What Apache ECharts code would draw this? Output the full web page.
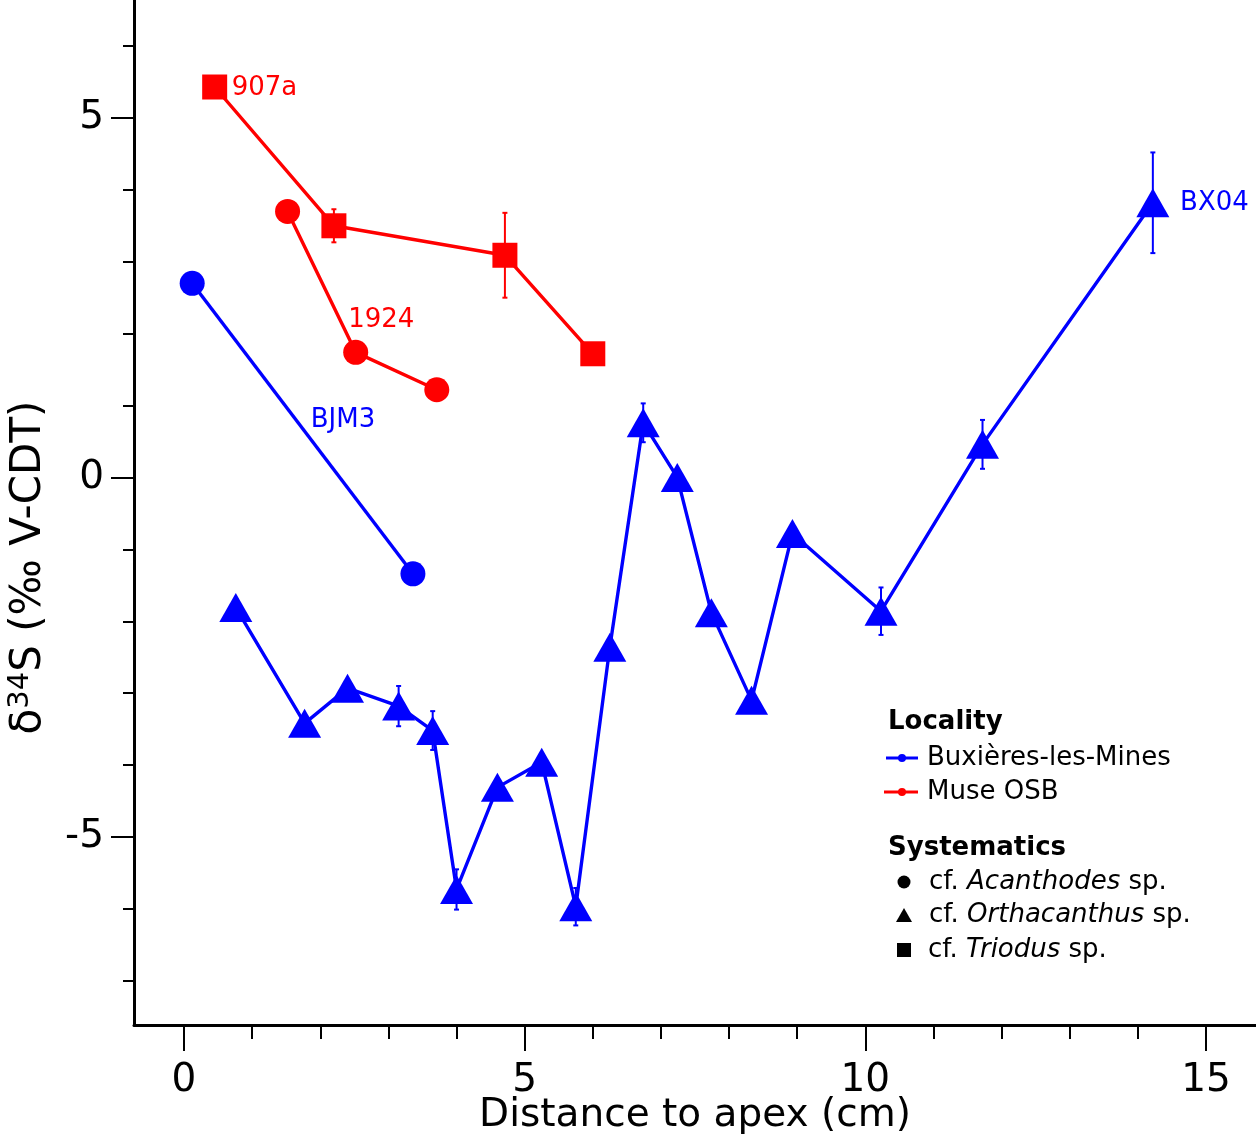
<!DOCTYPE html>
<html><head><meta charset="utf-8">
<script src="https://cdn.jsdelivr.net/npm/echarts@6/dist/echarts.min.js"></script>
<style>html,body{margin:0;padding:0;background:#fff}#c{width:1256px;height:1136px}</style>
</head><body><div id="c"></div>
<script>
// ---- data ----
const xMajorTicks = [0, 5, 10, 15];
const xMinorTicks = [1, 2, 3, 4, 6, 7, 8, 9, 11, 12, 13, 14];
const yMajorTicks = [-5, 0, 5];
const yMinorTicks = [-7, -6, -4, -3, -2, -1, 1, 2, 3, 4, 6];

const bx04X = [0.76, 1.77, 2.40, 3.15, 3.65, 4.00, 4.60, 5.25, 5.75, 6.25, 6.74, 7.24, 7.74, 8.33, 8.93, 10.23, 11.72, 14.22];
const bx04Y = [-1.81, -3.42, -2.93, -3.18, -3.52, -5.73, -4.31, -3.96, -5.97, -2.36, 0.76, 0.00, -1.88, -3.10, -0.78, -1.86, 0.46, 3.82];
const bx04Err = [0.12, 0.05, 0.10, 0.28, 0.27, 0.28, 0.05, 0.05, 0.26, 0.05, 0.27, 0.05, 0.05, 0.05, 0.05, 0.33, 0.34, 0.70];

const bjm3X = [0.12, 3.36];
const bjm3Y = [2.70, -1.34];
const bjm3Err = [0.05, 0.05];

const osb1924X = [1.52, 2.52, 3.71];
const osb1924Y = [3.70, 1.74, 1.22];
const osb1924Err = [0.05, 0.05, 0.05];

const osb907aX = [0.45, 2.20, 4.71, 6.00];
const osb907aY = [5.43, 3.50, 3.09, 1.72];
const osb907aErr = [0.05, 0.23, 0.59, 0.05];

const annText = ['907a', '1924', 'BJM3', 'BX04'];
const annX = [0.70, 2.41, 1.86, 14.62];
const annY = [5.41, 2.18, 0.80, 3.81];
const annColor = ['#ff0000', '#ff0000', '#0000ff', '#0000ff'];

// ---- chart ----
const BLUE = '#0000ff', RED = '#ff0000';
const FONT = 'DejaVu Sans';
const XMIN = -0.734, XMAX = 15.734, YMIN = -7.615, YMAX = 6.64;

function pts(xs, ys) { return xs.map((x, i) => [x, ys[i]]); }
function errPts(xs, ys, es) { return xs.map((x, i) => [x, ys[i], es[i]]); }

function errRender(color) {
  return function (params, api) {
    const x = api.value(0), y = api.value(1), e = api.value(2);
    const t = api.coord([x, y + e]), b = api.coord([x, y - e]);
    const w = 2.5;
    const st = { stroke: color, lineWidth: 2 };
    return { type: 'group', children: [
      { type: 'line', shape: { x1: t[0], y1: t[1], x2: b[0], y2: b[1] }, style: st },
      { type: 'line', shape: { x1: t[0] - w, y1: t[1], x2: t[0] + w, y2: t[1] }, style: st },
      { type: 'line', shape: { x1: b[0] - w, y1: b[1], x2: b[0] + w, y2: b[1] }, style: st }
    ]};
  };
}
function errSeries(xs, ys, es, color) {
  return { type: 'custom', renderItem: errRender(color), data: errPts(xs, ys, es), z: 1, silent: true };
}
function lineSeries(xs, ys, color, symbol, size) {
  return {
    type: 'line', data: pts(xs, ys), symbol: symbol, symbolSize: size, showAllSymbol: true,
    lineStyle: { color: color, width: 3.4 }, itemStyle: { color: color, borderWidth: 0 }, z: 2, silent: true
  };
}

const chart = echarts.init(document.getElementById('c'), null, { renderer: 'canvas' });

const axisLineStyle = { color: '#000', width: 3 };
const option = {
  animation: false,
  backgroundColor: '#fff',
  grid: { left: 134, right: 0, top: 0, bottom: 111, containLabel: false, outerBoundsMode: 'none' },
  xAxis: [
    {
      type: 'value', min: XMIN, max: XMAX, position: 'bottom',
      axisLine: { show: true, onZero: false, lineStyle: axisLineStyle },
      axisTick: { show: true, customValues: xMajorTicks, length: 26, lineStyle: { color: '#000', width: 2 } },
      axisLabel: { show: true, customValues: xMajorTicks, fontSize: 39, fontFamily: FONT, color: '#000', margin: 36 },
      splitLine: { show: false },
      name: 'Distance to apex (cm)', nameLocation: 'middle', nameGap: 71, nameMoveOverlap: false,
      nameTextStyle: { fontSize: 39, fontFamily: FONT, color: '#000' }
    },
    {
      type: 'value', min: XMIN, max: XMAX, position: 'bottom',
      axisLine: { show: false, onZero: false },
      axisTick: { show: true, customValues: xMinorTicks, length: 14, lineStyle: { color: '#000', width: 2 } },
      axisLabel: { show: false }, splitLine: { show: false }
    }
  ],
  yAxis: [
    {
      type: 'value', min: YMIN, max: YMAX, position: 'left',
      axisLine: { show: true, onZero: false, lineStyle: axisLineStyle },
      axisTick: { show: true, customValues: yMajorTicks, length: 23, lineStyle: { color: '#000', width: 2 } },
      axisLabel: { show: true, customValues: yMajorTicks, fontSize: 39, fontFamily: FONT, color: '#000', margin: 30 },
      splitLine: { show: false },
      name: '{a|δ}{s|34}{a|S (‰ V-CDT)}', nameLocation: 'middle', nameGap: 82, nameMoveOverlap: false,
      nameTextStyle: { fontFamily: FONT, color: '#000', padding: [0, 110, 0, 0],
        rich: { a: { fontSize: 42, fontFamily: FONT, color: '#000', lineHeight: 46 }, s: { fontSize: 29, fontFamily: FONT, color: '#000', verticalAlign: 'top', lineHeight: 46 } } }
    },
    {
      type: 'value', min: YMIN, max: YMAX, position: 'left',
      axisLine: { show: false, onZero: false },
      axisTick: { show: true, customValues: yMinorTicks, length: 11, lineStyle: { color: '#000', width: 2 } },
      axisLabel: { show: false }, splitLine: { show: false }
    }
  ],
  series: [
    errSeries(bx04X, bx04Y, bx04Err, BLUE),
    errSeries(bjm3X, bjm3Y, bjm3Err, BLUE),
    errSeries(osb1924X, osb1924Y, osb1924Err, RED),
    errSeries(osb907aX, osb907aY, osb907aErr, RED),
    lineSeries(bx04X, bx04Y, BLUE, 'triangle', [33, 29]),
    lineSeries(bjm3X, bjm3Y, BLUE, 'circle', 25),
    lineSeries(osb1924X, osb1924Y, RED, 'circle', 25),
    lineSeries(osb907aX, osb907aY, RED, 'rect', 25),
    {
      type: 'scatter', symbolSize: 0, silent: true, z: 3,
      data: annText.map((t, i) => ({
        name: t, value: [annX[i], annY[i]],
        label: { show: true, position: 'right', distance: 0, formatter: '{b}', color: annColor[i], opacity: 1, fontSize: 26, fontFamily: FONT }
      }))
    }
  ],
  graphic: [
    { type: 'text', x: 888, y: 722, style: { text: 'Locality', fontSize: 26, fontWeight: 'bold', fontFamily: FONT, fill: '#000', verticalAlign: 'middle' } },
    { type: 'line', shape: { x1: 886, y1: 758, x2: 918, y2: 758 }, style: { stroke: BLUE, lineWidth: 3 } },
    { type: 'circle', shape: { cx: 902, cy: 758, r: 4 }, style: { fill: BLUE } },
    { type: 'text', x: 927, y: 758, style: { text: 'Buxières-les-Mines', fontSize: 26, fontFamily: FONT, fill: '#000', verticalAlign: 'middle' } },
    { type: 'line', shape: { x1: 884, y1: 792, x2: 918, y2: 792 }, style: { stroke: RED, lineWidth: 3 } },
    { type: 'circle', shape: { cx: 902, cy: 792, r: 4 }, style: { fill: RED } },
    { type: 'text', x: 927, y: 792, style: { text: 'Muse OSB', fontSize: 26, fontFamily: FONT, fill: '#000', verticalAlign: 'middle' } },
    { type: 'text', x: 888, y: 848, style: { text: 'Systematics', fontSize: 26, fontWeight: 'bold', fontFamily: FONT, fill: '#000', verticalAlign: 'middle' } },
    { type: 'circle', shape: { cx: 904, cy: 882, r: 6.5 }, style: { fill: '#000' } },
    { type: 'text', x: 929, y: 882, style: { text: '{n|cf. }{i|Acanthodes}{n| sp.}', verticalAlign: 'middle',
      rich: { n: { fontSize: 26, fontFamily: FONT, fill: '#000', color: '#000' }, i: { fontSize: 26, fontFamily: FONT, fontStyle: 'italic', fill: '#000', color: '#000' } } } },
    { type: 'polygon', shape: { points: [[896, 922], [912, 922], [904, 908]] }, style: { fill: '#000' } },
    { type: 'text', x: 929, y: 915, style: { text: '{n|cf. }{i|Orthacanthus}{n| sp.}', verticalAlign: 'middle',
      rich: { n: { fontSize: 26, fontFamily: FONT, fill: '#000', color: '#000' }, i: { fontSize: 26, fontFamily: FONT, fontStyle: 'italic', fill: '#000', color: '#000' } } } },
    { type: 'rect', shape: { x: 897, y: 943, width: 14, height: 14 }, style: { fill: '#000' } },
    { type: 'text', x: 928, y: 950, style: { text: '{n|cf. }{i|Triodus}{n| sp.}', verticalAlign: 'middle',
      rich: { n: { fontSize: 26, fontFamily: FONT, fill: '#000', color: '#000' }, i: { fontSize: 26, fontFamily: FONT, fontStyle: 'italic', fill: '#000', color: '#000' } } } }
  ]
};
chart.setOption(option);
</script></body></html>
